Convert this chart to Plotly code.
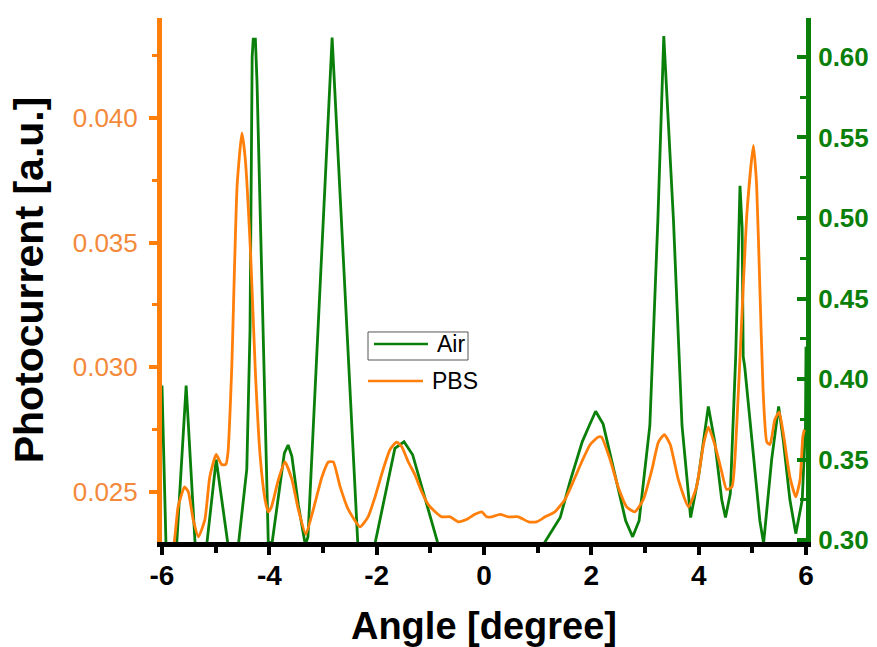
import plotly.graph_objects as go

# Air measurement (right axis)
air_angle = [-6.00, -5.92, -5.74, -5.55, -5.37, -5.17, -4.99, -4.77, -4.58, -4.42,
             -4.36, -4.32, -4.30, -4.26, -4.23, -4.02, -3.95, -3.82, -3.72, -3.65,
             -3.58, -3.46, -3.33, -3.28, -2.83, -2.35, -2.22, -2.03, -1.66, -1.49,
             -1.33, -0.86, -0.70, 0.00, 0.95, 1.12, 1.42, 1.60, 1.83, 1.96,
             2.08, 2.22, 2.45, 2.64, 2.77, 2.89, 3.09, 3.24, 3.35, 3.53,
             3.69, 3.85, 4.00, 4.18, 4.30, 4.43, 4.50, 4.59, 4.69, 4.77,
             4.81, 4.83, 4.86, 5.00, 5.14, 5.21, 5.36, 5.49, 5.58, 5.70,
             5.81, 5.93, 5.99, 6.00]
air_signal = [0.396, 0.290, 0.290, 0.396, 0.290, 0.296, 0.350, 0.297, 0.296, 0.344,
              0.430, 0.600, 0.611, 0.611, 0.585, 0.299, 0.298, 0.330, 0.354, 0.359,
              0.352, 0.322, 0.297, 0.302, 0.612, 0.297, 0.292, 0.298, 0.357, 0.361,
              0.353, 0.298, 0.285, 0.280, 0.285, 0.298, 0.314, 0.336, 0.361, 0.371,
              0.380, 0.372, 0.340, 0.312, 0.302, 0.312, 0.371, 0.499, 0.613, 0.499,
              0.371, 0.314, 0.340, 0.383, 0.361, 0.325, 0.314, 0.329, 0.414, 0.520,
              0.494, 0.414, 0.407, 0.361, 0.312, 0.298, 0.350, 0.383, 0.361, 0.325,
              0.304, 0.325, 0.371, 0.420]

# PBS measurement (left axis)
pbs_angle = [-6.00, -5.80, -5.76, -5.70, -5.58, -5.51, -5.42, -5.32, -5.20, -5.11,
             -4.99, -4.89, -4.81, -4.77, -4.70, -4.60, -4.51, -4.45, -4.35, -4.26,
             -4.17, -4.08, -4.02, -3.96, -3.83, -3.71, -3.58, -3.46, -3.32, -3.18,
             -3.02, -2.90, -2.81, -2.68, -2.53, -2.31, -2.16, -2.03, -1.88, -1.75,
             -1.63, -1.53, -1.41, -1.29, -1.16, -1.04, -0.91, -0.79, -0.63, -0.48,
             -0.32, -0.17, -0.04, 0.05, 0.14, 0.30, 0.45, 0.64, 0.83, 0.98,
             1.14, 1.32, 1.51, 1.66, 1.82, 1.98, 2.13, 2.19, 2.35, 2.50,
             2.66, 2.81, 2.97, 3.13, 3.25, 3.36, 3.47, 3.62, 3.81, 3.96,
             4.09, 4.18, 4.30, 4.43, 4.52, 4.62, 4.71, 4.80, 4.90, 5.02,
             5.08, 5.14, 5.20, 5.27, 5.33, 5.42, 5.50, 5.58, 5.70, 5.81,
             5.89, 5.94, 5.97]
pbs_signal = [0.0226, 0.0227, 0.0232, 0.0244, 0.0252, 0.0250, 0.0239, 0.0232, 0.0239, 0.0256,
              0.0265, 0.0261, 0.0261, 0.0266, 0.0300, 0.0373, 0.0394, 0.0384, 0.0346, 0.0298,
              0.0264, 0.0247, 0.0242, 0.0244, 0.0255, 0.0262, 0.0255, 0.0243, 0.0233, 0.0243,
              0.0256, 0.0262, 0.0262, 0.0252, 0.0243, 0.0236, 0.0240, 0.0248, 0.0259, 0.0267,
              0.0270, 0.0268, 0.0262, 0.0257, 0.0250, 0.0245, 0.0242, 0.0240, 0.0240, 0.0238,
              0.0239, 0.0241, 0.0242, 0.0240, 0.0240, 0.0241, 0.0240, 0.0240, 0.0238, 0.0238,
              0.0240, 0.0242, 0.0247, 0.0254, 0.0262, 0.0269, 0.0272, 0.0272, 0.0263, 0.0252,
              0.0244, 0.0242, 0.0247, 0.0259, 0.0270, 0.0273, 0.0269, 0.0255, 0.0244, 0.0252,
              0.0269, 0.0276, 0.0269, 0.0258, 0.0251, 0.0252, 0.0277, 0.0318, 0.0362, 0.0389,
              0.0373, 0.0332, 0.0291, 0.0270, 0.0269, 0.0279, 0.0282, 0.0273, 0.0256, 0.0248,
              0.0255, 0.0272, 0.0275]

# Axis ticks
angle_ticks = [-6, -4, -2, 0, 2, 4, 6]
angle_tick_labels = ["-6", "-4", "-2", "0", "2", "4", "6"]

GREEN = "#0A7F0A"
ORANGE = "#FF7F0A"
FONT = "Liberation Sans"

fig = go.Figure()
fig.add_trace(go.Scatter(x=air_angle, y=air_signal, name="Air", mode="lines",
                         line=dict(color=GREEN, width=2.8), yaxis="y"))
fig.add_trace(go.Scatter(x=pbs_angle, y=pbs_signal, name="PBS", mode="lines",
                         line=dict(color=ORANGE, width=2.8, shape="spline", smoothing=0.5),
                         yaxis="y2"))

fig.update_layout(
    width=877, height=647,
    margin=dict(l=162, r=71, t=18, b=105, autoexpand=False),
    paper_bgcolor="white", plot_bgcolor="white",
    showlegend=False,
    font=dict(family=FONT, color="black"),
    xaxis=dict(
        range=[-6, 6], tickmode="array", tickvals=angle_ticks, ticktext=angle_tick_labels,
        automargin=False,
        showgrid=False, zeroline=False,
        showline=True, linecolor="black", linewidth=5,
        ticks="outside", ticklen=8, tickwidth=4, tickcolor="black",
        minor=dict(dtick=1, tick0=0, ticks="outside", ticklen=6, tickwidth=4, tickcolor="black"),
        tickfont=dict(family=FONT, size=28, color="black", weight="bold"),
        ticklabelstandoff=-4,
        title=dict(text="Angle [degree]", standoff=30,
                   font=dict(family=FONT, size=38, color="black", weight="bold")),
    ),
    yaxis=dict(
        side="right", range=[0.2988, 0.6242], tick0=0.30, dtick=0.05, tickformat=".2f",
        automargin=False,
        showgrid=False, zeroline=False,
        showline=True, linecolor=GREEN, linewidth=5,
        ticks="inside", ticklen=9, tickwidth=4, tickcolor=GREEN,
        minor=dict(dtick=0.025, ticks="inside", ticklen=6, tickwidth=3, tickcolor=GREEN),
        tickfont=dict(family=FONT, size=26, color=GREEN, weight="bold"),
        ticklabelstandoff=2,
    ),
    yaxis2=dict(
        side="left", overlaying="y", range=[0.02299, 0.04401], tick0=0.025, dtick=0.005,
        tickformat=".3f", automargin=False,
        showgrid=False, zeroline=False,
        showline=True, linecolor=ORANGE, linewidth=5,
        ticks="outside", ticklen=8, tickwidth=4, tickcolor=ORANGE,
        minor=dict(dtick=0.0025, ticks="outside", ticklen=5, tickwidth=3, tickcolor=ORANGE),
        tickfont=dict(family=FONT, size=26, color="#F3893A"),
        ticklabelstandoff=6,
        title=dict(text="Photocurrent [a.u.]", standoff=18,
                   font=dict(family=FONT, size=41, color="black", weight="bold")),
    ),
)

# Legend: boxed "Air" entry with "PBS" entry beneath it
fig.add_shape(type="rect", xref="paper", yref="paper",
              x0=0.3199, x1=0.4752, y0=0.3473, y1=0.4008,
              line=dict(color="#555555", width=1), fillcolor="rgba(0,0,0,0)")
fig.add_shape(type="line", xref="paper", yref="paper",
              x0=0.3292, x1=0.4130, y0=0.3779, y1=0.3779,
              line=dict(color=GREEN, width=2.5))
fig.add_shape(type="line", xref="paper", yref="paper",
              x0=0.3199, x1=0.4053, y0=0.3073, y1=0.3073,
              line=dict(color=ORANGE, width=2.5))
fig.add_annotation(text="Air", xref="paper", yref="paper", x=0.4239, y=0.3779,
                   xanchor="left", yanchor="middle", showarrow=False,
                   font=dict(family=FONT, size=23, color="black"))
fig.add_annotation(text="PBS", xref="paper", yref="paper", x=0.4161, y=0.3073,
                   xanchor="left", yanchor="middle", showarrow=False,
                   font=dict(family=FONT, size=23, color="black"))

fig.write_html("out.html")
